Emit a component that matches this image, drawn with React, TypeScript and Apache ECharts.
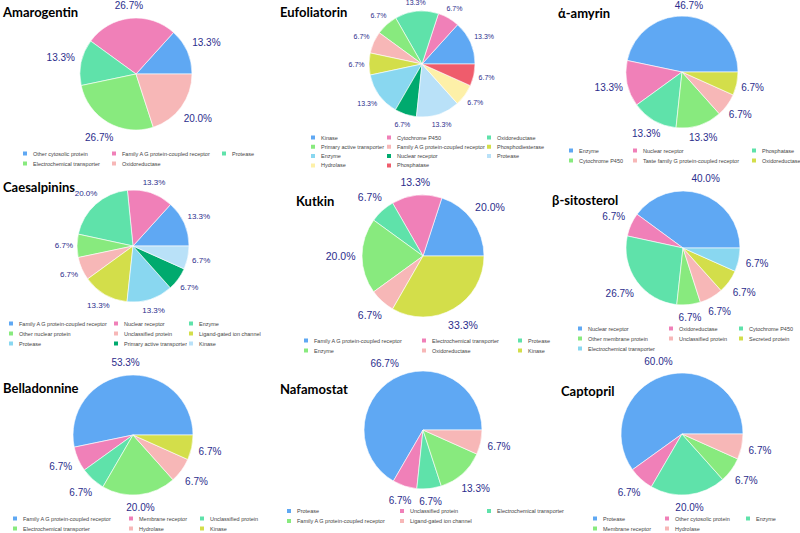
import React, { useEffect, useRef } from "react";
import * as echarts from "echarts";

const palette = ["#5fa8f3", "#f080b8", "#5fe2aa", "#88ea7e", "#f7b7b7", "#d3de4a", "#89d7f0", "#00aa6e", "#b9e1f8", "#fdf0a8", "#ef5c6c"];

const amarogentinNames = ["Other cytosolic protein", "Family A G protein-coupled receptor", "Protease", "Electrochemical transporter", "Oxidoreductase"];
const amarogentinValues = [13.3, 26.7, 13.3, 26.7, 20.0];

const eufoliatorinNames = ["Kinase", "Cytochrome P450", "Oxidoreductase", "Primary active transporter", "Family A G protein-coupled receptor", "Phosphodiesterase", "Enzyme", "Nuclear receptor", "Protease", "Hydrolase", "Phosphatase"];
const eufoliatorinValues = [13.3, 6.7, 13.3, 6.7, 6.7, 6.7, 13.3, 6.7, 13.3, 6.7, 6.7];

const amyrinNames = ["Enzyme", "Nuclear receptor", "Phosphatase", "Cytochrome P450", "Taste family G protein-coupled receptor", "Oxidoreductase"];
const amyrinValues = [46.7, 13.3, 13.3, 13.3, 6.7, 6.7];

const caesalpininsNames = ["Family A G protein-coupled receptor", "Nuclear receptor", "Enzyme", "Other nuclear protein", "Unclassified protein", "Ligand-gated ion channel", "Protease", "Primary active transporter", "Kinase"];
const caesalpininsValues = [13.3, 13.3, 20.0, 6.7, 6.7, 13.3, 13.3, 6.7, 6.7];

const kutkinNames = ["Family A G protein-coupled receptor", "Electrochemical transporter", "Protease", "Enzyme", "Oxidoreductase", "Kinase"];
const kutkinValues = [20.0, 13.3, 6.7, 20.0, 6.7, 33.3];

const sitosterolNames = ["Nuclear receptor", "Oxidoreductase", "Cytochrome P450", "Other membrane protein", "Unclassified protein", "Secreted protein", "Electrochemical transporter"];
const sitosterolValues = [40.0, 6.7, 26.7, 6.7, 6.7, 6.7, 6.7];

const belladonnineNames = ["Family A G protein-coupled receptor", "Membrane receptor", "Unclassified protein", "Electrochemical transporter", "Hydrolase", "Kinase"];
const belladonnineValues = [53.3, 6.7, 6.7, 20.0, 6.7, 6.7];

const nafamostatNames = ["Protease", "Unclassified protein", "Electrochemical transporter", "Family A G protein-coupled receptor", "Ligand-gated ion channel"];
const nafamostatValues = [66.7, 6.7, 6.7, 13.3, 6.7];

const captoprilNames = ["Protease", "Other cytosolic protein", "Enzyme", "Membrane receptor", "Hydrolase"];
const captoprilValues = [60.0, 6.7, 20.0, 6.7, 6.7];

const panels = [
  { title: "Amarogentin", names: amarogentinNames, values: amarogentinValues, center: [136, 74], r: 56, tl: [3, 5], lx: [21, 110, 220], lt: 149.5, lg: 2, fs: 10, gap: 6 },
  { title: "Eufoliatorin", names: eufoliatorinNames, values: eufoliatorinValues, center: [422, 64], r: 53, tl: [280, 5], lx: [309, 385, 485], lt: 133.5, lg: 1.3, fs: 7, gap: 4.5 },
  { title: "\u03ac-amyrin", names: amyrinNames, values: amyrinValues, center: [682, 72], r: 56, tl: [558, 6], lx: [567, 631, 750], lt: 146.5, lg: 2, fs: 10, gap: 4 },
  { title: "Caesalpinins", names: caesalpininsNames, values: caesalpininsValues, center: [133, 246], r: 56, tl: [3, 180], lx: [7, 112, 187], lt: 319.5, lg: 2, fs: 8, gap: 4 },
  { title: "Kutkin", names: kutkinNames, values: kutkinValues, center: [423, 256], r: 61, tl: [296, 194], lx: [302, 420, 516], lt: 336.5, lg: 2, fs: 10.5, gap: 6.5 },
  { title: "\u03b2-sitosterol", names: sitosterolNames, values: sitosterolValues, center: [683, 248], r: 57, tl: [552, 193], lx: [576, 667, 737], lt: 324.5, lg: 2, fs: 10, gap: 6.5 },
  { title: "Belladonnine", names: belladonnineNames, values: belladonnineValues, center: [133, 435], r: 60, tl: [3, 381], lx: [11, 127, 198], lt: 514.5, lg: 2, fs: 10, gap: 6.5 },
  { title: "Nafamostat", names: nafamostatNames, values: nafamostatValues, center: [423, 430], r: 59, tl: [280, 382], lx: [285, 398, 485], lt: 507, lg: 2, fs: 10, gap: 6.5 },
  { title: "Captopril", names: captoprilNames, values: captoprilValues, center: [682, 434], r: 61, tl: [561, 384], lx: [591, 663, 744], lt: 514.5, lg: 2, fs: 10, gap: 6.5 },
];

function makeLayout(cx: number, cy: number, r: number, gap: number) {
  return (params: any) => {
    const lr = params.labelRect;
    const mx = lr.x + lr.width / 2;
    const my = lr.y + lr.height / 2;
    let ux = mx - cx;
    let uy = my - cy;
    const len = Math.hypot(ux, uy) || 1;
    ux /= len;
    uy /= len;
    const ext = Math.abs(ux) * lr.width / 2 + Math.abs(uy) * lr.height / 2;
    const d = r + gap + ext;
    return { x: cx + ux * d, y: cy + uy * d, align: "center", verticalAlign: "middle" };
  };
}

export default function App() {
  const ref = useRef<HTMLDivElement>(null);
  useEffect(() => {
    if (!ref.current) return;
    const chart = echarts.init(ref.current, undefined, { renderer: "svg" });
    const titles: any[] = [];
    const legends: any[] = [];
    const series: any[] = [];
    panels.forEach((p) => {
      titles.push({
        text: p.title,
        left: p.tl[0],
        top: p.tl[1],
        padding: 0,
        textStyle: { fontFamily: "Lato, 'Noto Sans', sans-serif", fontWeight: "bold", fontSize: 13, color: "#000" },
      });
      for (let c = 0; c < 3; c++) {
        const items: any[] = [];
        p.names.forEach((n, i) => {
          if (i % 3 === c) items.push({ name: n, itemStyle: { color: palette[i] } });
        });
        if (!items.length) continue;
        legends.push({
          orient: "vertical",
          left: p.lx[c],
          top: p.lt,
          padding: 0,
          itemGap: p.lg,
          itemWidth: 6,
          itemHeight: 6,
          icon: "rect",
          selectedMode: false,
          data: items,
          textStyle: { fontFamily: "'Liberation Sans', Arial, sans-serif", fontSize: 5.5, lineHeight: 7, color: "#444" },
        });
      }
      series.push({
        type: "pie",
        center: p.center,
        radius: p.r,
        startAngle: 0,
        clockwise: false,
        avoidLabelOverlap: false,
        data: p.names.map((n, i) => ({ name: n, value: p.values[i], itemStyle: { color: palette[i] } })),
        itemStyle: { borderColor: "#ffffff", borderWidth: 0.6 },
        label: {
          show: true,
          position: "inside",
          formatter: (q: any) => Number(q.value).toFixed(1) + "%",
          fontFamily: "'Liberation Sans', Arial, sans-serif",
          fontSize: p.fs,
          color: "#2b2d8c",
        },
        labelLine: { show: false },
        labelLayout: makeLayout(p.center[0], p.center[1], p.r, p.gap),
        emphasis: { disabled: true },
      });
    });
    chart.setOption({
      animation: false,
      backgroundColor: "#ffffff",
      title: titles,
      legend: legends,
      series,
    });
    return () => chart.dispose();
  }, []);
  return <div ref={ref} style={{ position: "fixed", left: 0, top: 0, width: 800, height: 533 }} />;
}
